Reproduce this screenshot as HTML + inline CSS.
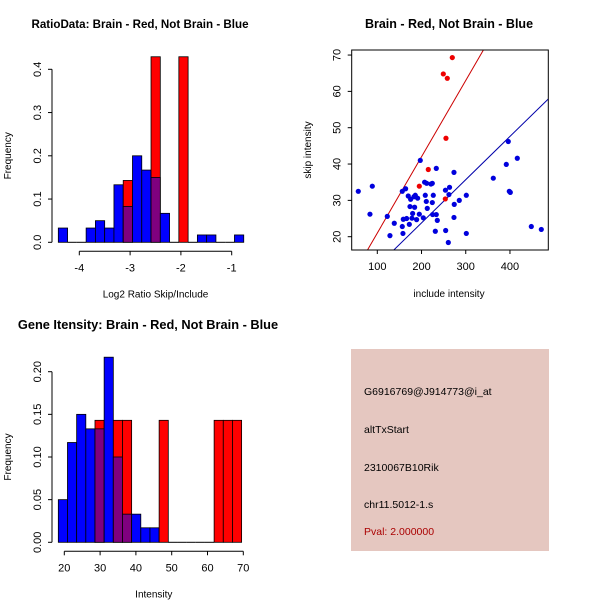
<!DOCTYPE html>
<html><head><meta charset="utf-8"><style>
html,body{margin:0;padding:0;background:#fff}
svg{display:block;font-family:"Liberation Sans",sans-serif}
</style></head><body>
<svg id="s" width="600" height="600"></svg>
<script>
// Panel 1: log2 ratio histogram (bins start -4.413, width 0.1825)
const ratioBinStart = -4.413, ratioBinWidth = 0.1825;
const ratioBlue = [0.033,0,0,0.033,0.05,0.033,0.133,0.083,0.2,0.167,0.15,0.067,0,0,0,0.017,0.017,0,0,0.017];
const ratioRed  = [0,0,0,0,0,0,0,0.143,0,0,0.429,0,0,0.429,0,0,0,0,0,0];
const ratioXTicks = [-4,-3,-2,-1];
const ratioYTicks = [0,0.1,0.2,0.3,0.4];
// Panel 3: intensity histogram
const intBinStart = 18.33, intBinWidth = 2.56;
const intBlue = [0.05,0.117,0.15,0.133,0.133,0.217,0.1,0.033,0.033,0.017,0.017,0,0,0,0,0,0,0,0,0];
const intRed  = [0,0,0,0,0.143,0,0.143,0.143,0,0,0,0.143,0,0,0,0,0,0.143,0.143,0.143];
const intXTicks = [20,30,40,50,60,70];
const intYTicks = [0,0.05,0.10,0.15,0.20];
// Panel 2: scatter
const blueInclude = [57,83.4,88.7,122.6,128.6,138.4,156.5,158,156.5,164,158.8,166.3,170,172.4,173.9,175.4,178.4,179.9,182.9,184.4,185.9,188.9,191.2,195,197.2,204,207,208.5,210.8,211.6,213,221.4,224.4,224.4,225.1,226.6,231.2,233.4,233.4,235.7,254.6,254.1,260.6,262,263.4,273.4,273.4,274,285.4,301.3,301.3,362.3,391.7,396.2,398.5,400.8,416.6,448.3,470.9];
const blueSkip = [32.5,26.2,33.9,25.6,20.3,23.7,22.8,20.9,32.5,33.2,24.8,25,31.2,23.4,28.3,30.3,25.1,26.4,31,28.1,31.4,24.7,30.6,26.2,41,25.2,35,31.4,29.7,34.7,27.8,34.5,29.4,34.7,26.1,31.4,21.5,38.8,26.1,24.5,21.7,32.8,18.4,31.6,33.6,37.7,25.3,28.9,30,31.4,20.9,36.1,39.9,46.2,32.5,32.2,41.6,22.8,22];
const redInclude = [269.6,249.3,258.3,255.3,215.3,195,253.8];
const redSkip = [69.3,64.8,63.6,47.1,38.5,33.9,30.4];
const scXTicks = [100,200,300,400];
const scYTicks = [20,30,40,50,60,70];
const redSlope = 0.21, blueSlope = 0.119;

const NS="http://www.w3.org/2000/svg", svg=document.getElementById('s');
function mk(tag,attrs,parent){const e=document.createElementNS(NS,tag);for(const k in attrs)e.setAttribute(k,attrs[k]);(parent||svg).appendChild(e);return e;}
function txt(x,y,s,opt,parent){const t=mk('text',Object.assign({x:x,y:y,'font-size':11,'text-anchor':'middle',fill:'#000'},opt||{}),parent);t.textContent=s;return t;}

function histogram(name,title,xlabel,binStart,binW,blue,red,xTicks,yTicks,xs,ys,yFmt,titleX,titleY,titleSize){
  const g=mk('g',{});
  
  
  const tt=txt(titleX,titleY,title,{'font-weight':'bold','font-size':titleSize},g);
  
  
  const y0=ys(0);
  for(let i=0;i<blue.length;i++){
    const x1=xs(binStart+i*binW),x2=xs(binStart+(i+1)*binW);
    const b=blue[i],r=red[i];
    if(r>0){const e=mk('rect',{x:x1,y:ys(r),width:x2-x1,height:y0-ys(r),fill:'#ff0000',stroke:'#000','stroke-width':0.8},g);
      
      }
    if(b>0){const e=mk('rect',{x:x1,y:ys(b),width:x2-x1,height:y0-ys(b),fill:r>0?'#7f007f':'#0000ff',stroke:'#000','stroke-width':0.8},g);
      
      }
    if(b===0&&r===0){mk('line',{x1:x1,x2:x2,y1:y0,y2:y0,stroke:'#000'},g);}
  }
  const ay=y0+9;
  mk('line',{x1:xs(xTicks[0]),x2:xs(xTicks[xTicks.length-1]),y1:ay,y2:ay,stroke:'#000'},g);
  xTicks.forEach(v=>{mk('line',{x1:xs(v),x2:xs(v),y1:ay,y2:ay+4,stroke:'#000'},g);txt(xs(v),ay+20,String(v),{},g);});
  const ax=52;
  mk('line',{x1:ax,x2:ax,y1:ys(yTicks[0]),y2:ys(yTicks[yTicks.length-1]),stroke:'#000'},g);
  yTicks.forEach(v=>{mk('line',{x1:ax-4,x2:ax,y1:ys(v),y2:ys(v),stroke:'#000'},g);
    txt(0,0,yFmt(v),{transform:`translate(${ax-11},${ys(v)}) rotate(-90)`},g);});
  const xl=txt((xs(xTicks[0])+xs(xTicks[xTicks.length-1]))/2,ay+46,xlabel,{'font-size':10},g);
  
  
  const yl=txt(0,0,'Frequency',{'font-size':10,transform:`translate(11,${(ys(yTicks[0])+ys(yTicks[yTicks.length-1]))/2}) rotate(-90)`},g);
  
  
}
histogram('ratio-histogram','RatioData: Brain - Red, Not Brain - Blue','Log2 Ratio Skip/Include',
  ratioBinStart,ratioBinWidth,ratioBlue,ratioRed,ratioXTicks,ratioYTicks,
  v=>79.3+(v+4)*50.8, v=>242.3-v*432.5, v=>v.toFixed(1),140,28,11.6);
histogram('intensity-histogram','Gene Itensity: Brain - Red, Not Brain - Blue','Intensity',
  intBinStart,intBinWidth,intBlue,intRed,intXTicks,intYTicks,
  v=>64.3+(v-20)*3.58, v=>542.3-v*853, v=>v.toFixed(2),148,329,12.8);

// scatter
(function(){
  const g=mk('g',{});
  
  
  const xs=v=>377.3+(v-100)*0.4422, ys=v=>236.7-(v-20)*3.633;
  const L=351.7,R=548.3,T=50,B=250;
  const t=txt(449,28,'Brain - Red, Not Brain - Blue',{'font-weight':'bold','font-size':12.5},g);
  
  
  const cp=mk('clipPath',{id:'cp'},g);mk('rect',{x:L,y:T,width:R-L,height:B-T},cp);
  const xmin=(L-377.3)/0.4422+100,xmax=(R-377.3)/0.4422+100;
  [[redSlope,'#cc0000','red-fit-line'],[blueSlope,'#0000aa','blue-fit-line']].forEach(([s,c,n])=>{
    const l=mk('line',{x1:xs(xmin),y1:ys(s*xmin),x2:xs(xmax),y2:ys(s*xmax),stroke:c,'stroke-width':1,'clip-path':'url(#cp)'},g);
    
    
  });
  blueInclude.forEach((v,i)=>{const c=mk('circle',{cx:xs(v),cy:ys(blueSkip[i]),r:2.6,fill:'#0000dd'},g);
    
    });
  redInclude.forEach((v,i)=>{const c=mk('circle',{cx:xs(v),cy:ys(redSkip[i]),r:2.6,fill:'#ee0000'},g);
    
    });
  mk('rect',{x:L,y:T,width:R-L,height:B-T,fill:'none',stroke:'#000'},g);
  scXTicks.forEach(v=>{mk('line',{x1:xs(v),x2:xs(v),y1:B,y2:B+4,stroke:'#000'},g);txt(xs(v),B+20,String(v),{},g);});
  scYTicks.forEach(v=>{mk('line',{x1:L-4,x2:L,y1:ys(v),y2:ys(v),stroke:'#000'},g);
    txt(0,0,String(v),{transform:`translate(${L-11},${ys(v)}) rotate(-90)`},g);});
  const xl=txt(449,297,'include intensity',{'font-size':10},g);
  
  
  const yl=txt(0,0,'skip intensity',{'font-size':10,transform:'translate(311,150) rotate(-90)'},g);
  
  
})();

// info panel
(function(){
  const g=mk('g',{});
  
  
  mk('rect',{x:351,y:349,width:198,height:202,fill:'#e5c7c0'},g);
  const lines=[['G6916769@J914773@i_at',395,'#000','probe-id'],['altTxStart',433,'#000','event-type'],['2310067B10Rik',471,'#000','gene-name'],['chr11.5012-1.s',508,'#000','chromosome-id'],['Pval: 2.000000',535,'#aa0000','p-value']];
  lines.forEach(([s,y,c,n])=>{const t=txt(364,y,s,{'text-anchor':'start','font-size':10.5,fill:c},g);
    
    });
})();
</script>
</body></html>
